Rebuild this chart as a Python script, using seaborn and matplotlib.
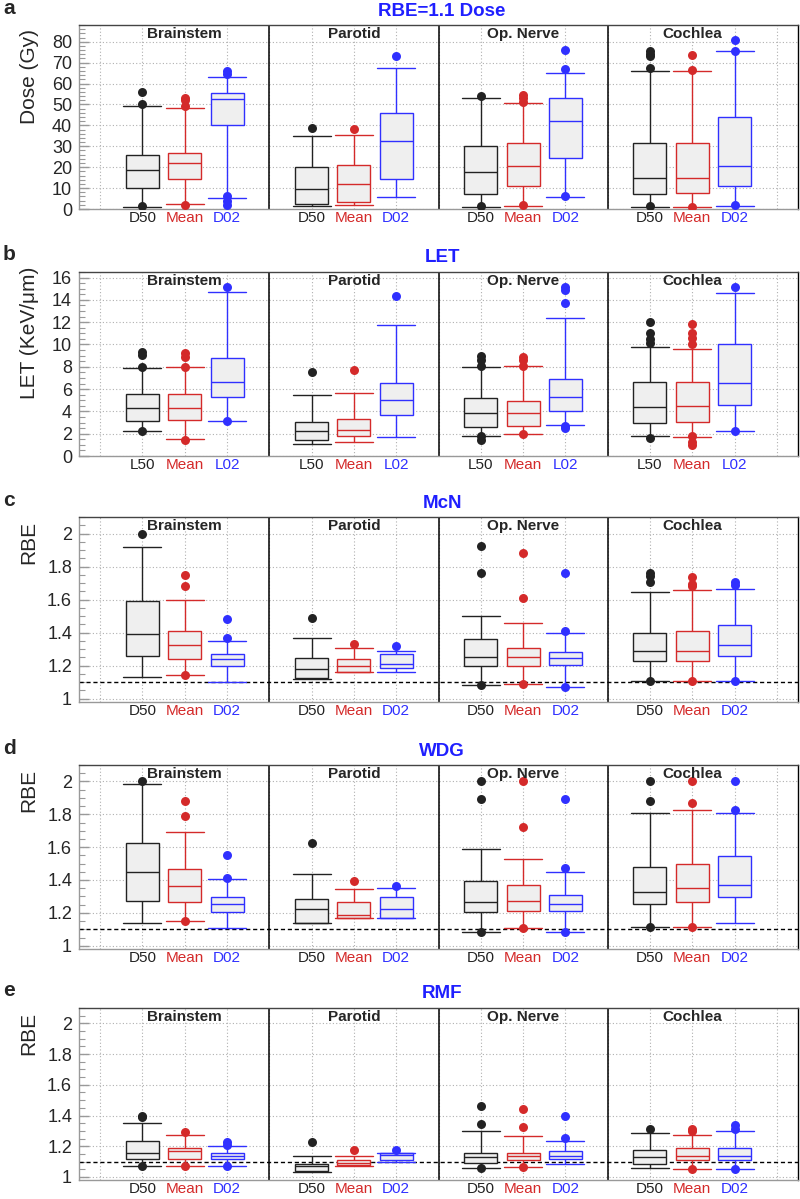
import matplotlib
matplotlib.use("Agg")
import matplotlib.pyplot as plt
from matplotlib.ticker import MultipleLocator, FuncFormatter
import matplotlib.transforms as mtransforms
import seaborn as sns

organs = ["Brainstem", "Parotid", "Op. Nerve", "Cochlea"]
dose_metrics = ["D50", "Mean", "D02"]
let_metrics = ["L50", "Mean", "L02"]
metric_colors = ["#222222", "#d42a2a", "#3030ff"]
positions = [1, 2, 3, 5, 6, 7, 9, 10, 11, 13, 14, 15]

# (lower whisker, q1, median, q3, upper whisker), organ by organ: D50/L50, Mean, D02/L02
dose_boxes = [
    (1.1, 9.9, 18.7, 25.9, 49.5), (2.4, 14.4, 22.2, 27.0, 48.5), (5.1, 40.2, 52.7, 55.7, 63.0),
    (1.4, 2.4, 9.4, 20.0, 35.0), (1.9, 3.4, 11.8, 21.1, 35.4), (5.6, 14.4, 32.6, 45.8, 67.5),
    (1.1, 7.2, 17.7, 29.9, 53.0), (1.6, 11.0, 20.6, 31.5, 50.6), (5.9, 24.3, 42.3, 52.9, 65.0),
    (1.1, 7.2, 15.0, 31.5, 66.1), (1.1, 7.8, 15.0, 31.5, 66.1), (1.6, 11.0, 20.6, 43.9, 75.4),
]
dose_outliers = [
    [56.0, 50.0, 1.3], [53.3, 52.2, 49.3, 2.0], [66.0, 64.7, 6.2, 3.8, 1.9],
    [38.6], [38.2], [73.3],
    [54.1, 1.3], [54.6, 53.3, 51.4, 1.8], [76.2, 66.9, 6.0],
    [75.4, 74.1, 73.0, 67.4, 1.3], [73.8, 66.3, 1.1], [80.6, 75.8, 1.8],
]

let_boxes = [
    (2.2, 3.16, 4.29, 5.57, 7.87), (1.5, 3.25, 4.29, 5.57, 7.99), (3.1, 5.28, 6.62, 8.76, 14.7),
    (1.1, 1.46, 2.2, 3.04, 5.48), (1.22, 1.76, 2.3, 3.31, 5.63), (1.7, 3.64, 4.98, 6.53, 11.74),
    (1.76, 2.59, 3.85, 5.19, 7.96), (1.97, 2.71, 3.85, 4.95, 8.08), (2.8, 4.05, 5.28, 6.91, 12.34),
    (1.76, 2.95, 4.35, 6.62, 9.8), (1.7, 3.04, 4.44, 6.62, 9.6), (2.2, 4.59, 6.53, 10.04, 14.66),
]
let_outliers = [
    [9.35, 9.05, 8.0, 2.2], [9.2, 8.9, 8.0, 1.4], [15.15, 3.15],
    [7.55], [7.75], [14.35],
    [8.95, 8.6, 8.1, 1.8, 1.45], [8.9, 8.6, 8.1, 1.95], [15.15, 14.85, 13.75, 2.7, 2.5],
    [12.0, 11.0, 10.5, 10.1, 1.6], [11.8, 11.0, 10.55, 10.05, 1.8, 1.3, 1.0], [15.15, 2.2],
]

mcn_boxes = [
    (1.13, 1.26, 1.39, 1.59, 1.92), (1.145, 1.24, 1.325, 1.41, 1.60), (1.10, 1.20, 1.24, 1.27, 1.35),
    (1.12, 1.125, 1.18, 1.248, 1.367), (1.16, 1.16, 1.20, 1.242, 1.305), (1.16, 1.185, 1.21, 1.27, 1.29),
    (1.085, 1.20, 1.25, 1.359, 1.50), (1.089, 1.20, 1.25, 1.305, 1.458), (1.069, 1.206, 1.244, 1.282, 1.40),
    (1.105, 1.226, 1.29, 1.40, 1.643), (1.105, 1.226, 1.29, 1.41, 1.66), (1.109, 1.26, 1.325, 1.446, 1.667),
]
mcn_outliers = [
    [2.0], [1.75, 1.68, 1.145], [1.48, 1.37],
    [1.488], [1.33], [1.32],
    [1.923, 1.758, 1.085], [1.88, 1.61, 1.089], [1.764, 1.41, 1.069],
    [1.764, 1.744, 1.708, 1.105], [1.734, 1.694, 1.68, 1.105], [1.708, 1.688, 1.109],
]

wdg_boxes = [
    (1.136, 1.272, 1.447, 1.626, 1.986), (1.152, 1.268, 1.363, 1.465, 1.69), (1.108, 1.206, 1.254, 1.294, 1.405),
    (1.14, 1.14, 1.224, 1.284, 1.435), (1.168, 1.168, 1.184, 1.268, 1.343), (1.168, 1.168, 1.226, 1.294, 1.35),
    (1.085, 1.204, 1.268, 1.391, 1.586), (1.11, 1.21, 1.274, 1.371, 1.53), (1.085, 1.21, 1.254, 1.31, 1.447),
    (1.116, 1.254, 1.329, 1.481, 1.807), (1.116, 1.268, 1.35, 1.5, 1.829), (1.136, 1.296, 1.371, 1.544, 1.807),
]
wdg_outliers = [
    [2.0], [1.883, 1.787, 1.152], [1.552, 1.41],
    [1.626], [1.393], [1.365],
    [2.0, 1.893, 1.085], [2.0, 1.723, 1.11], [1.893, 1.471, 1.085],
    [2.0, 1.88, 1.116], [2.0, 1.87, 1.116], [2.0, 1.829],
]

rmf_boxes = [
    (1.071, 1.114, 1.157, 1.232, 1.35), (1.071, 1.118, 1.168, 1.19, 1.275), (1.071, 1.114, 1.135, 1.153, 1.2),
    (1.035, 1.04, 1.07, 1.082, 1.135), (1.071, 1.075, 1.092, 1.11, 1.135), (1.10, 1.108, 1.146, 1.157, 1.157),
    (1.06, 1.088, 1.131, 1.157, 1.30), (1.065, 1.11, 1.135, 1.157, 1.269), (1.086, 1.114, 1.135, 1.172, 1.232),
    (1.06, 1.086, 1.129, 1.178, 1.286), (1.054, 1.108, 1.135, 1.19, 1.275), (1.054, 1.108, 1.135, 1.19, 1.30),
]
rmf_outliers = [
    [1.40, 1.39, 1.071], [1.29, 1.071], [1.23, 1.21, 1.071],
    [1.226], [1.178], [1.178],
    [1.462, 1.344, 1.056], [1.44, 1.325, 1.065], [1.398, 1.254],
    [1.312], [1.31, 1.297, 1.054], [1.34, 1.31, 1.054],
]

panels = [
    ("a", "RBE=1.1 Dose", "Dose (Gy)", dose_boxes, dose_outliers, dose_metrics, (0, 88), 10, 2),
    ("b", "LET", "LET (KeV/\u03bcm)", let_boxes, let_outliers, let_metrics, (0, 16.5), 2, 0.5),
    ("c", "McN", "RBE", mcn_boxes, mcn_outliers, dose_metrics, (0.98, 2.1), 0.2, 0.05),
    ("d", "WDG", "RBE", wdg_boxes, wdg_outliers, dose_metrics, (0.98, 2.1), 0.2, 0.05),
    ("e", "RMF", "RBE", rmf_boxes, rmf_outliers, dose_metrics, (0.98, 2.1), 0.2, 0.05),
]

sns.set_style("white")
plt.rcParams["font.family"] = ["Liberation Sans", "DejaVu Sans"]

W, H = 800, 1199
ax_px = [(25, 209), (272, 456), (517, 702), (765, 949), (1008, 1180)]
fig = plt.figure(figsize=(8, 11.99), dpi=100)

for (letter, title, ylabel, boxes, outliers, metrics, ylim, major, minor), (top, bot) in zip(panels, ax_px):
    ax = fig.add_axes([79 / W, 1 - bot / H, 719 / W, (bot - top) / H])

    for k, (pos, stats, fl) in enumerate(zip(positions, boxes, outliers)):
        c = metric_colors[k % 3]
        sns.boxplot(x=[pos] * len(stats), y=list(stats), orient="x", native_scale=True,
                    whis=(0, 100), width=0.78, color="#efefef", saturation=1,
                    linecolor=c, linewidth=1.0, showfliers=False, capwidths=0.9, ax=ax)
        sns.scatterplot(x=[pos] * len(fl), y=fl, color=c, s=42, linewidth=0,
                        ax=ax, zorder=5, legend=False)

    for xv in (4, 8, 12):
        ax.axvline(xv, color="black", lw=1.1, zorder=1.5)
    if ylabel == "RBE":
        ax.axhline(1.1, color="black", ls=(0, (3, 2)), lw=1.0, zorder=1.6)

    ax.set_xlim(-0.5, 16.5)
    ax.set_ylim(*ylim)
    ticks = list(range(17))
    ax.set_xticks(ticks)
    ax.set_xticklabels(["" if t % 4 == 0 else metrics[t % 4 - 1] for t in ticks])
    for t, lab in zip(ticks, ax.get_xticklabels()):
        if t % 4:
            lab.set_color(metric_colors[t % 4 - 1])
    ax.tick_params(axis="x", length=0, pad=1.5, labelsize=11)

    ax.yaxis.set_major_locator(MultipleLocator(major))
    ax.yaxis.set_minor_locator(MultipleLocator(minor))
    ax.yaxis.set_major_formatter(FuncFormatter(lambda v, p: f"{v:g}"))
    ax.tick_params(axis="y", which="major", direction="in", length=7, width=1,
                   color="#999999", labelsize=13, pad=5, left=True)
    ax.tick_params(axis="y", which="minor", direction="in", length=4, width=0.8,
                   color="#999999", left=True)

    ax.grid(True, which="major", color="#b0b0b0", linestyle=(0, (1, 2)), linewidth=0.8)
    ax.set_axisbelow(True)

    for side, col in (("left", "#999999"), ("bottom", "#999999"), ("top", "#444444"), ("right", "black")):
        ax.spines[side].set_visible(True)
        ax.spines[side].set_color(col)
        ax.spines[side].set_linewidth(1.0)

    ax.set_xlabel("")
    ax.set_ylabel(ylabel, fontsize=15, loc="top")
    ax.yaxis.set_label_coords(-0.056, 1.03 if letter == "b" else 0.98)

    trans = mtransforms.blended_transform_factory(ax.transData, ax.transAxes)
    for g, name in enumerate(organs):
        ax.text(2 + 4 * g, 1 - 9 / (bot - top), name, transform=trans, ha="center",
                va="center", fontsize=11, fontweight="bold", zorder=6)

    fig.text(442 / W, 1 - (top - 14) / H, title, ha="center", va="center",
             color="#1f1fff", fontsize=13.5, fontweight="bold")
    fig.text(3 / W, 1 - (top - 17) / H, letter, ha="left", va="center",
             fontsize=15, fontweight="bold")

fig.savefig("out.png", dpi=100)
